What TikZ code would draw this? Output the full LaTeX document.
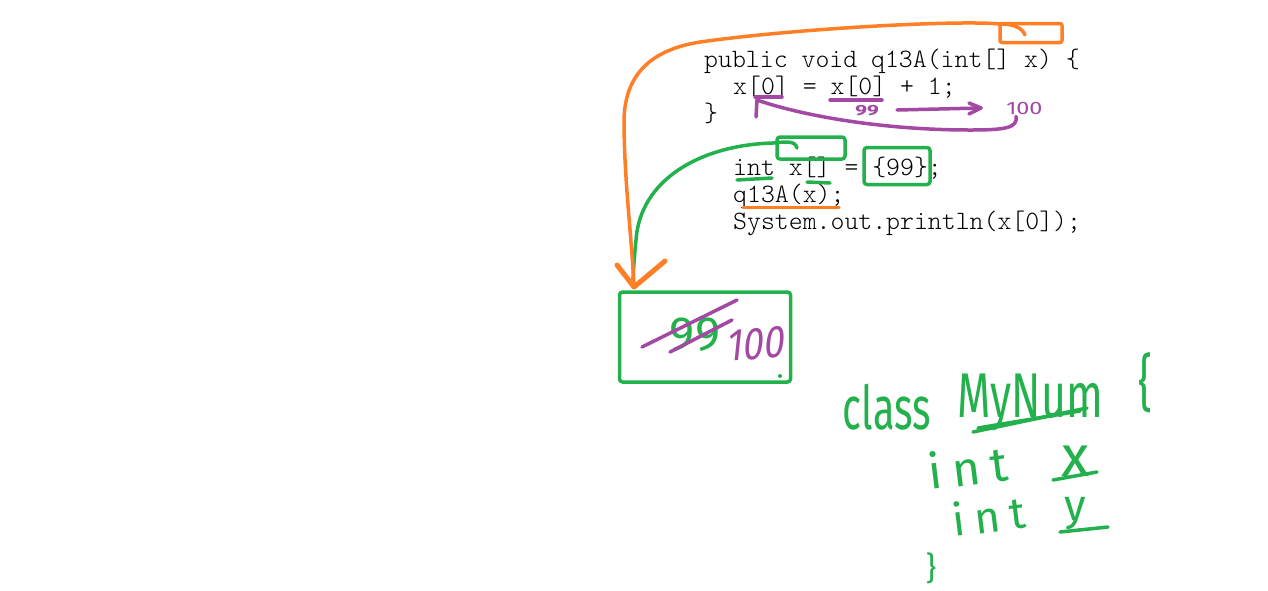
\documentclass[tikz,border=0pt]{standalone}
\usepackage{fontspec}
\setmonofont{Latin Modern Mono Light}
\newfontfamily\handfont{Fira Sans}
\newfontfamily\handspaced{Fira Sans}[LetterSpace=22]
\definecolor{porange}{HTML}{FF7F27}
\definecolor{pgreen}{HTML}{22B14C}
\definecolor{ppurple}{HTML}{A349A4}
\begin{document}
\begin{tikzpicture}[x=1pt,y=-1pt,
  code/.style={anchor=base west, inner sep=0pt, text=black,
    font=\ttfamily\fontsize{26.5}{27}\selectfont},
  pen/.style={line width=3.5pt, line cap=round, line join=round},
  hand/.style={inner sep=0pt, font=\handfont\fontsize{#1}{#1}\selectfont},
  hand/.default=50,
  handbox/.style={pen, draw=pgreen, rounded corners=3pt, inner sep=0pt}]
\fill[white] (0,0) rectangle (1268,590);
\useasboundingbox (0,0) rectangle (1268,590);

% code
\node[code] (l1) at (704,67)  {public void q13A(int[] x) \{};
\node[code] (l2) at (733,94)  {x[0] = x[0] + 1;};
\node[code] (l3) at (704,121) {\}};
\node[code] (l4) at (733,175) {int x[] = \{99\};};
\node[code] (l5) at (733,202) {q13A(x);};
\node[code] (l6) at (733,229) {System.out.println(x[0]);};

% boxes
\node[handbox, minimum width=68, minimum height=22] (grect) at (811,148) {};
\node[handbox, minimum width=66, minimum height=37] (gbrace) at (897,166) {};
\node[pen, draw=porange, rounded corners=2pt, inner sep=0pt,
      minimum width=62, minimum height=19] (orect) at (1031,33) {};
\node[handbox, minimum width=171, minimum height=90] (bigbox) at (705,337) {};
\fill[pgreen] (780,376) circle (2pt);

% green underlines
\draw[pen, pgreen] (737,180) -- (772,178);
\draw[pen, pgreen] (807,182) -- (830,183);

% orange underline
\draw[pen, porange, line width=3pt] (743,207) -- (839,207);

% green connector from small green box to big box
\coordinate (ghook) at (797,148);
\coordinate (gtip) at (633,287);
\draw[pen, pgreen] (ghook) .. controls (795,140) and (785,142) .. (773,143)
  .. controls (700,145) and (640,180) .. (636,240)
  .. controls (634,260) and (633,275) .. (gtip);

% orange connector
\coordinate (ohook) at (1025,35);
\coordinate (otip) at (634,287);
\draw[pen, porange] (ohook) .. controls (1022,27) and (1012,24) .. (1000,24)
  .. controls (960,20) and (800,28) .. (700,42)
  .. controls (650,50) and (625,75) .. (624,120)
  .. controls (624,180) and (632,240) .. (otip);
\draw[pen, porange, line width=5pt] (617,265) -- (otip) -- (665,261);

% purple marks in first lines
\draw[pen, ppurple] (755,97) -- (782,97);
\draw[pen, ppurple] (830,100) -- (882,100);
\node[hand=21, text=ppurple, yscale=0.7, font=\handfont\bfseries\fontsize{21}{21}\selectfont] (p99) at (867,111) {99};
\coordinate (pa1) at (897,110);
\coordinate (pa2) at (981,108);
\draw[pen, ppurple] (pa1) -- (pa2);
\draw[pen, ppurple] (969,103) -- (pa2) -- (969,114);
\node[hand=18, text=ppurple, xscale=1.3, anchor=base west] (p100) at (1006,114) {100};
\coordinate (ptip) at (757,100);
\draw[pen, ppurple] (p100.south west) ++(10,2) .. controls (1018,128) and (1005,130) .. (970,130)
  .. controls (880,130) and (800,115) .. (ptip);
\draw[pen, ppurple] (ptip) -- (756,117);

% big box contents
\node[hand=48, text=pgreen] (g99) at (695,335) {99};
\draw[pen, ppurple] (642,347) -- (737,300);
\draw[pen, ppurple] (670,352) -- (732,320);
\node[hand=46, text=ppurple, xscale=0.8, xslant=0.2, rotate=4] (b100) at (757,344) {100};

% class sketch
\node[hand=55, text=pgreen, xscale=0.72, yscale=1.1, anchor=base] (hclass) at (887,429) {class};
\node[hand=55, text=pgreen, xscale=0.78, yscale=1.15, anchor=base] (hname) at (1030,417) {MyNum};
\draw[pen, pgreen] (973,432) -- (1087,408);
\draw[pen, pgreen] (978,428) -- (1080,411);
\node[hand=62, text=pgreen, xscale=0.7] (hopen) at (1145,383) {\{};
\node[text=pgreen, inner sep=0pt, font=\handspaced\fontsize{48}{48}\selectfont, rotate=7, anchor=base west] (hint1) at (930,490) {int};
\node[hand=58, text=pgreen] (hx) at (1076,461) {x};
\draw[pen, pgreen] (1053,480) -- (1097,472);
\node[text=pgreen, inner sep=0pt, font=\handspaced\fontsize{44}{44}\selectfont, rotate=7, anchor=base west] (hint2) at (954,537) {int};
\node[hand=44, text=pgreen, anchor=base] (hy) at (1075,520) {y};
\draw[pen, pgreen] (1060,532) -- (1108,527);
\node[hand=32, text=pgreen] (hclose) at (931,568) {\}};
\end{tikzpicture}
\end{document}
